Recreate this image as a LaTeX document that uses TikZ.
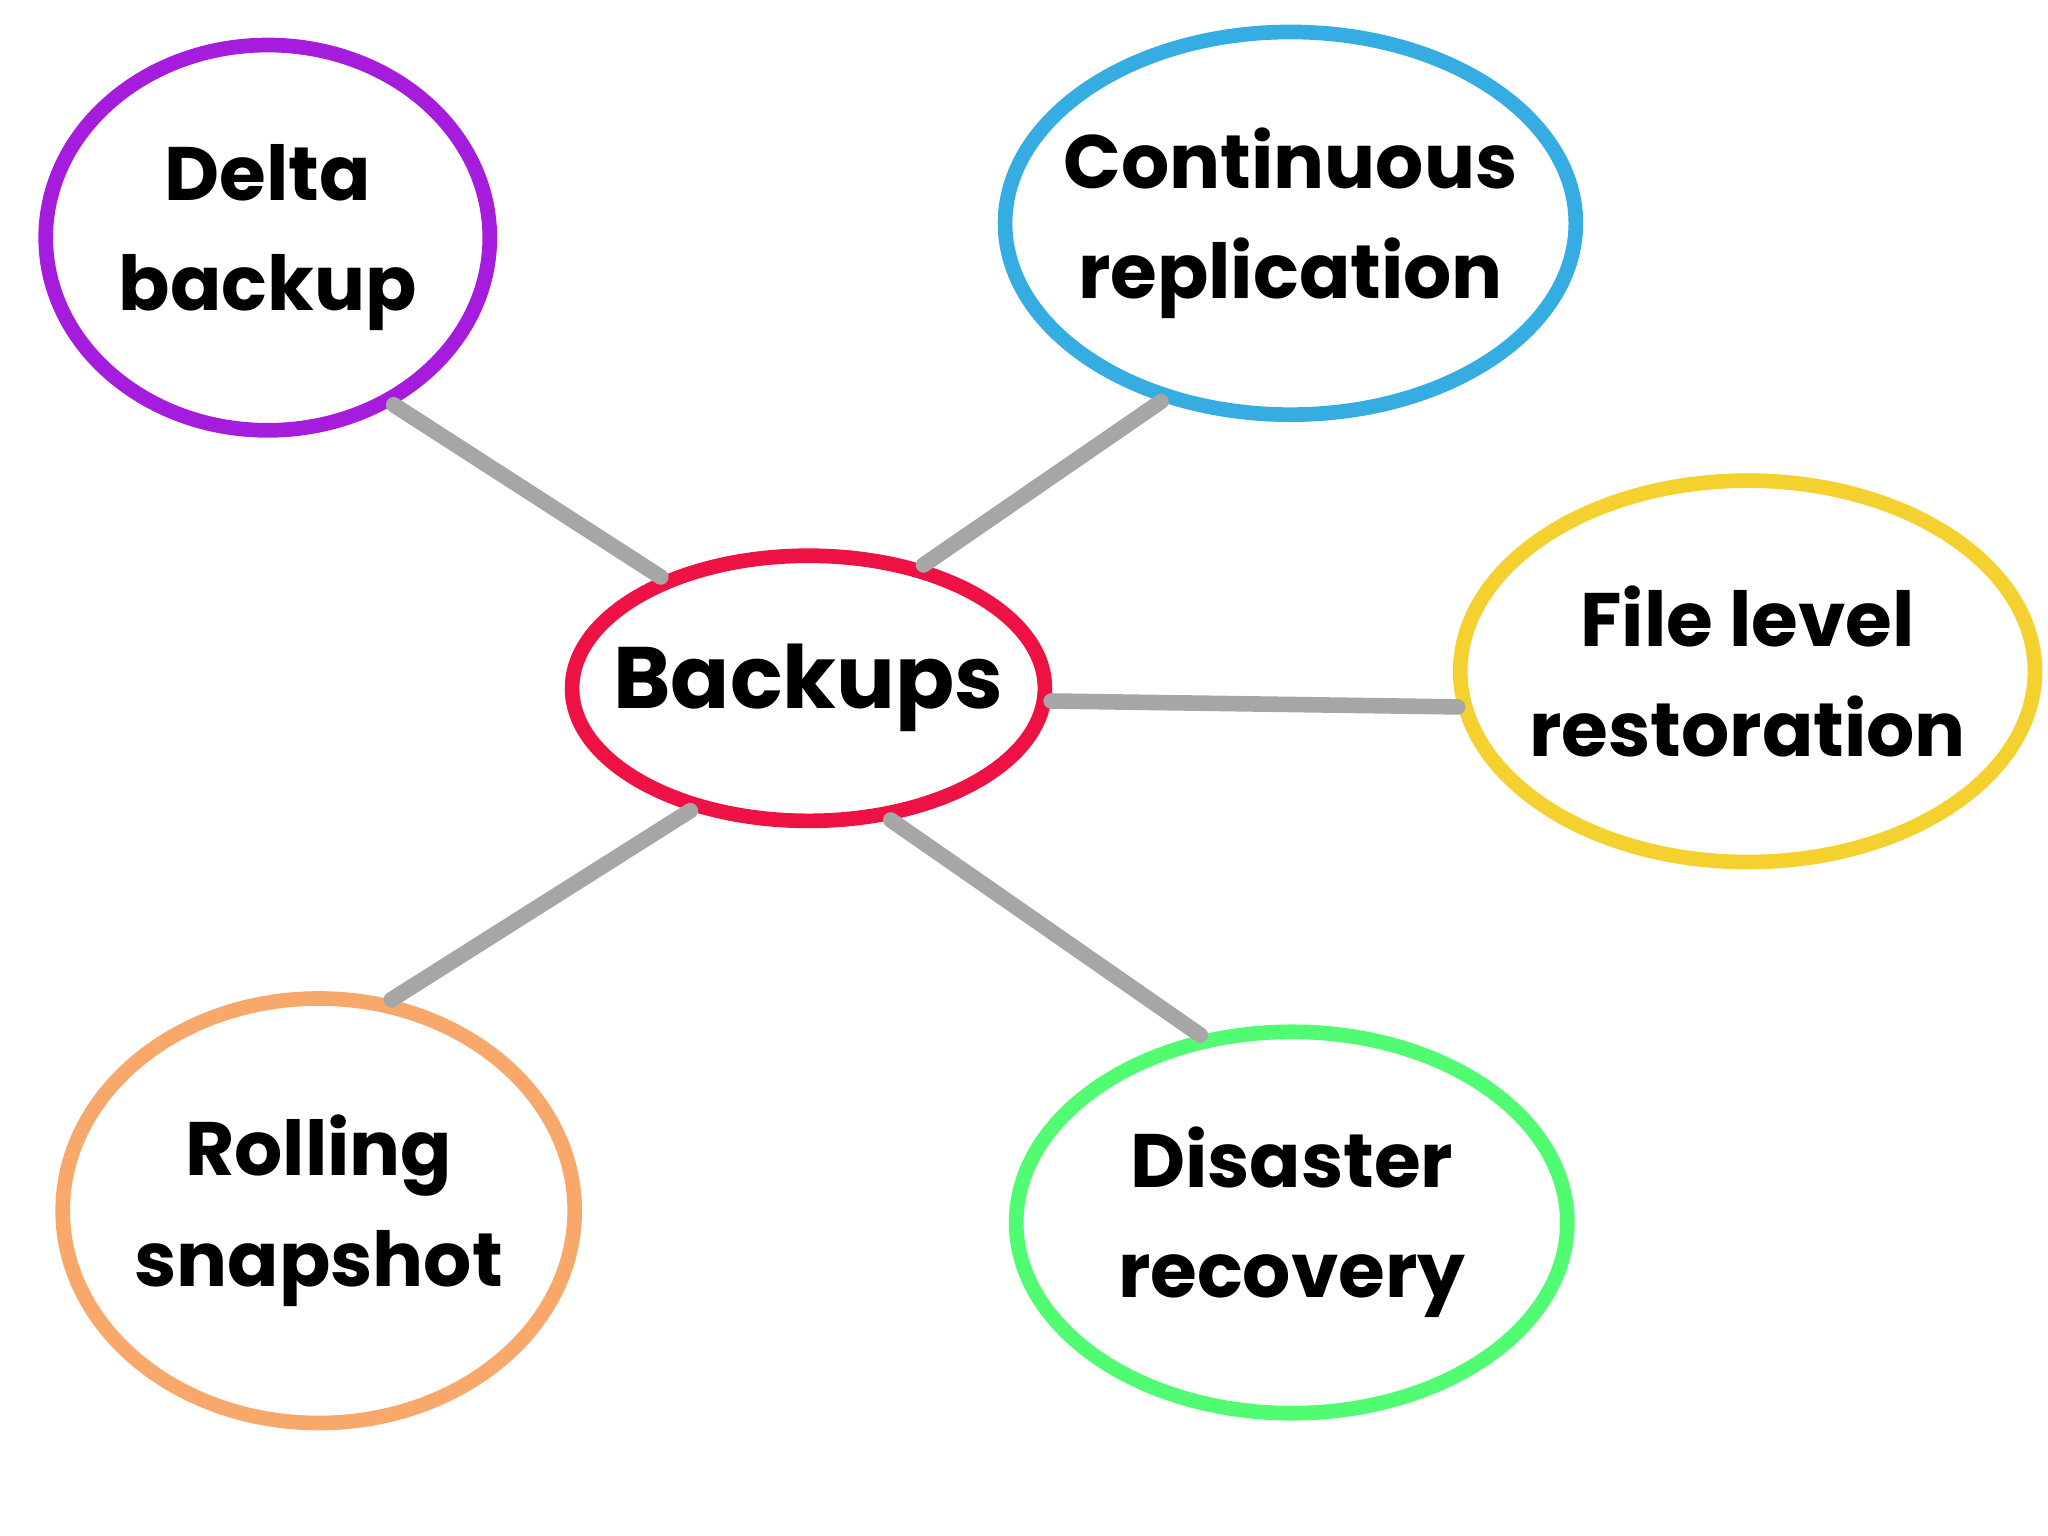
\documentclass[tikz,border=0pt]{standalone}
\usepackage{fontspec}
\setmainfont{Poppins}
\usetikzlibrary{shapes.geometric}
\definecolor{deltapurple}{HTML}{A51CDD}
\definecolor{replblue}{HTML}{35ADE2}
\definecolor{fileyellow}{HTML}{F5D130}
\definecolor{backred}{HTML}{EE1144}
\definecolor{rollorange}{HTML}{F8A86A}
\definecolor{disgreen}{HTML}{52FC72}
\definecolor{linkgray}{HTML}{A6A6A6}
\tikzset{
bubble/.style={ellipse, draw, line width=3.2pt, inner sep=-2cm, align=center,
  font=\fontsize{16.5}{24}\selectfont\bfseries}, % the hand drawn circles
link/.style={draw=linkgray, line width=3.4pt, line cap=round}, % grey spokes
}

\begin{document}
\begin{tikzpicture}
        \useasboundingbox (0,0) rectangle (15.68,11.76);
        \node[bubble, draw=backred, minimum width=3.62cm, minimum height=2.03cm,
          font=\fontsize{19}{24}\selectfont\bfseries] (backups) at (6.19,6.49) {Backups};
        \node[bubble, draw=deltapurple, minimum width=3.40cm, minimum height=2.95cm] (delta) at (2.05,9.94) {Delta\\backup};
        \node[bubble, draw=replblue, minimum width=4.37cm, minimum height=2.93cm] (repl) at (9.88,10.05) {Continuous\\replication};
        \node[bubble, draw=fileyellow, minimum width=4.40cm, minimum height=2.92cm] (file) at (13.38,6.62) {File level\\restoration};
        \node[bubble, draw=rollorange, minimum width=3.92cm, minimum height=3.25cm] (roll) at (2.44,2.49) {Rolling\\snapshot};
        \node[bubble, draw=disgreen, minimum width=4.22cm, minimum height=2.92cm] (disaster) at (9.89,2.40) {Disaster\\recovery};

        \draw[link] (backups.143) -- (delta.-53);
        \draw[link] (backups.47) -- (repl.234);
        \draw[link] (backups.-3) -- (file.187);
        \draw[link] (backups.226) -- (roll.71);
        \draw[link] (backups.-58) -- (disaster.116);
      \end{tikzpicture}
\end{document}
